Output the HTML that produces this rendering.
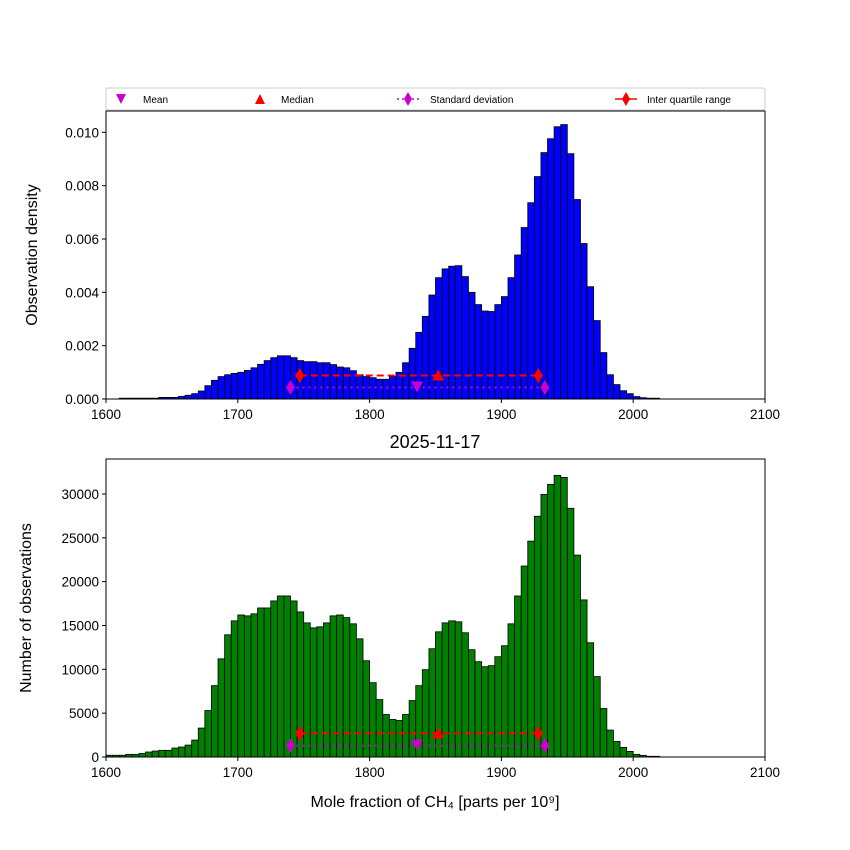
<!DOCTYPE html>
<html><head><meta charset="utf-8"><style>
body{margin:0;background:#fff;}
svg{display:block;font-family:"Liberation Sans","DejaVu Sans",sans-serif;}
</style></head><body>
<svg id="c" width="850" height="850" viewBox="0 0 850 850" xmlns="http://www.w3.org/2000/svg">
<rect width="850" height="850" fill="#fff"/>
</svg>
<script>
const binStart = 1600;
const binWidth = 5;
const densityValues = [0,0,0.00003,0.00003,0.00003,0.00003,0.00003,0.00003,0.00006,0.00006,0.00006,0.0001,0.00014,0.0002,0.0003,0.0005,0.0007,0.00084,0.00091,0.00096,0.001,0.00107,0.00117,0.0013,0.00144,0.00155,0.00162,0.00162,0.00155,0.00144,0.0014,0.0014,0.00136,0.00136,0.00129,0.0012,0.00117,0.00106,0.00091,0.00084,0.0008,0.00074,0.00074,0.00084,0.001,0.00136,0.0019,0.0025,0.0031,0.0039,0.00455,0.00488,0.00498,0.005,0.00459,0.004,0.00354,0.0033,0.00328,0.00354,0.00384,0.00455,0.0054,0.00643,0.00736,0.00834,0.00924,0.00976,0.01021,0.01029,0.0092,0.00748,0.00583,0.00421,0.00294,0.00174,0.00091,0.00054,0.00031,0.0002,0.00009,0.00005,0.00003,0.00003];
const countValues = [200,200,200,300,300,400,570,680,760,760,1020,1140,1360,1930,3300,5300,8140,11200,13940,15530,16200,16100,16330,17000,17000,17800,18370,18370,17800,16550,15300,14730,14850,15300,16100,16200,15900,15190,13480,10980,8480,6550,4850,4280,4170,4850,6440,8140,9960,12350,14280,15300,15530,15420,14170,12240,10870,10300,10420,11440,12690,15190,18370,21780,24620,27460,29960,31100,32120,31890,28370,23030,17920,13030,9170,5530,3070,1780,1100,640,300,190,80,80];
const topTicks = [0,0.002,0.004,0.006,0.008,0.010];
const topTickLabels = ["0.000","0.002","0.004","0.006","0.008","0.010"];
const botTicks = [0,5000,10000,15000,20000,25000,30000];
const xTicks = [1600,1700,1800,1900,2000,2100];
const statsX = {mean:1836, median:1852, stdLo:1740, stdHi:1933, iqrLo:1747, iqrHi:1928};
const topStatY = {iqr:0.00088, std:0.00043};
const botStatY = {iqr:2700, std:1300};

const NS="http://www.w3.org/2000/svg";
const svg=document.getElementById('c');
function mk(tag,attrs,parent){const e=document.createElementNS(NS,tag);for(const k in attrs)e.setAttribute(k,attrs[k]);(parent||svg).appendChild(e);return e;}
const X0=106,X1=765;
function sx(v){return X0+(v-1600)/500*(X1-X0);}

function panel(name,y0,y1,ymax,vals,color,ticks,labels,stY){
  const sy=v=>y1-v/ymax*(y1-y0);
  const g=mk('g',{});
  
  
  vals.forEach((v,i)=>{
    if(v<=0)return;
    const a=sx(binStart+i*binWidth),b=sx(binStart+(i+1)*binWidth);
    const r=mk('rect',{x:a,y:sy(v),width:b-a,height:y1-sy(v),fill:color,stroke:'#000','stroke-width':0.8},g);
    
    
  });
  const yi=sy(stY.iqr),ys=sy(stY.std);
  const l1=mk('line',{x1:sx(statsX.iqrLo),x2:sx(statsX.iqrHi),y1:yi,y2:yi,stroke:'#f00','stroke-width':2,'stroke-dasharray':'7,4'},g);
  
  const l2=mk('line',{x1:sx(statsX.stdLo),x2:sx(statsX.stdHi),y1:ys,y2:ys,stroke:'#c0c','stroke-width':2,'stroke-dasharray':'2,4'},g);
  
  const dia=(x,y,c,n)=>{const p=mk('polygon',{points:`${x},${y-7.5} ${x+4.5},${y} ${x},${y+7.5} ${x-4.5},${y}`,fill:c},g);};
  dia(sx(statsX.iqrLo),yi,'#f00','iqr-low-marker');dia(sx(statsX.iqrHi),yi,'#f00','iqr-high-marker');
  dia(sx(statsX.stdLo),ys,'#c0c','std-low-marker');dia(sx(statsX.stdHi),ys,'#c0c','std-high-marker');
  const mx=sx(statsX.mean);
  const m=mk('polygon',{points:`${mx-6},${ys-6} ${mx+6},${ys-6} ${mx},${ys+5}`,fill:'#c0c'},g);
  
  const dx=sx(statsX.median);
  const md=mk('polygon',{points:`${dx-6},${yi+5} ${dx+6},${yi+5} ${dx},${yi-6}`,fill:'#f00'},g);
  
  const f=mk('rect',{x:X0,y:y0,width:X1-X0,height:y1-y0,fill:'none',stroke:'#000','stroke-width':1},g);
  
  ticks.forEach((t,i)=>{
    const y=sy(t);
    mk('line',{x1:X0-4,x2:X0,y1:y,y2:y,stroke:'#000'},g);
    const tx=mk('text',{x:X0-7,y:y+5,'text-anchor':'end','font-size':13.5},g);
    tx.textContent=labels[i];
    
  });
  xTicks.forEach(t=>{
    const x=sx(t);
    mk('line',{x1:x,x2:x,y1:y1,y2:y1+4,stroke:'#000'},g);
    const tx=mk('text',{x:x,y:y1+20,'text-anchor':'middle','font-size':13.5},g);
    tx.textContent=t;
    
  });
}
panel('density',111,399,0.0108,densityValues,'#0000ff',topTicks,topTickLabels,topStatY);
panel('count',459,757,33990,countValues,'#008000',botTicks,botTicks.map(String),botStatY);

function txt(x,y,s,size,name,extra){const t=mk('text',Object.assign({x:x,y:y,'font-size':size},extra||{}));t.textContent=s;return t;}
txt(37,255,'Observation density',16,'top-y-axis-title',{'text-anchor':'middle',transform:'rotate(-90 37 255)'});
txt(31,608,'Number of observations',16,'bottom-y-axis-title',{'text-anchor':'middle',transform:'rotate(-90 31 608)'});
txt(435,448,'2025-11-17',18,'chart-title',{'text-anchor':'middle'});
txt(435,807,'Mole fraction of CH₄ [parts per 10⁹]',16,'x-axis-title',{'text-anchor':'middle'});

const lg=mk('g',{});


mk('rect',{x:106,y:88,width:659,height:22,fill:'#fff',stroke:'#ccc',rx:2},lg);
mk('polygon',{points:'116,94 126,94 121,104',fill:'#c0c'},lg);
txt(143,103,'Mean',10,'legend-mean');
mk('polygon',{points:'255,104 265,104 260,94',fill:'#f00'},lg);
txt(281,103,'Median',10,'legend-median');
mk('line',{x1:397,x2:420,y1:99,y2:99,stroke:'#c0c','stroke-width':1.6,'stroke-dasharray':'2,3'},lg);
mk('polygon',{points:'408,92 412,99 408,106 404,99',fill:'#c0c'},lg);
txt(430,103,'Standard deviation',10,'legend-std');
mk('line',{x1:615,x2:637,y1:99,y2:99,stroke:'#f00','stroke-width':1.6},lg);
mk('polygon',{points:'626,92 630,99 626,106 622,99',fill:'#f00'},lg);
txt(647,103,'Inter quartile range',10,'legend-iqr');
</script>
</body></html>
